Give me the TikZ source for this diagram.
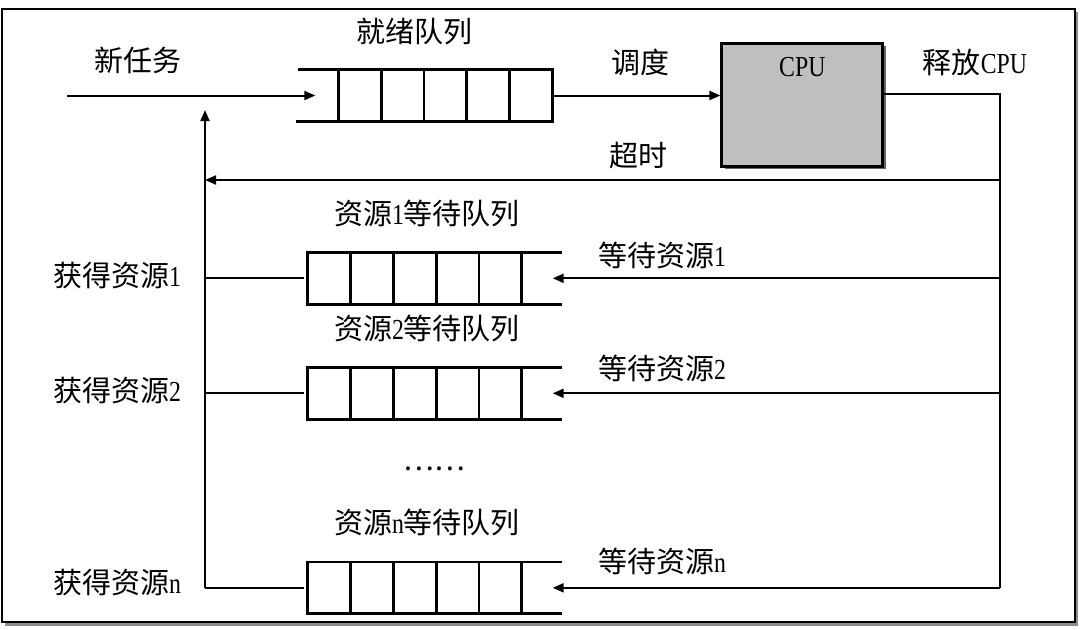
\documentclass[tikz,border=0pt]{standalone}
\usepackage{fontspec}
\setmainfont{Liberation Serif}[FakeStretch=0.82]
\newfontfamily\zhfont{Noto Sans CJK SC}
\newcommand{\zh}[1]{{\zhfont #1}}
\usetikzlibrary{positioning,arrows.meta,calc,shadows}

\begin{document}
\begin{tikzpicture}[
		x=0.5pt,y=-0.5pt,
		font=\fontsize{14.5pt}{17pt}\selectfont,
		cell/.style={draw,line width=1.4pt,minimum width=21.4pt,minimum height=25.8pt,inner sep=0pt,outer sep=0pt},
		pipe/.style={line width=1.4pt},
		ln/.style={line width=1pt},
		ar/.style={ln,-{Triangle[length=5.5pt,width=4.5pt]}},
		lbl/.style={inner sep=0pt},
		cpubox/.style={draw,line width=1.4pt,fill=black!25,minimum width=80.5pt,minimum height=61.4pt,
			drop shadow={shadow xshift=1.5pt,shadow yshift=-1.5pt,fill=black!60,opacity=1}}
		]

		\useasboundingbox (0,0) rectangle (1080,629);
		% frame
		\fill[black!45] (5,12) rectangle (1078,626);
		\draw[line width=1.4pt,fill=white] (2,9) rectangle (1075,622);

		% ready queue
		\node[cell] (r1) at (359.7,95.5) {};
		\foreach \i [count=\j from 2] in {1,...,4} \node[cell,right=0pt of r\i] (r\j) {};
		\draw[pipe] (r1.north west) -- ++(-40,0);
		\draw[pipe] (r1.south west) -- ++(-42,0);

		% cpu
		\node[cpubox,label={[lbl,anchor=north,yshift=-7.5pt]north:CPU}] (cpu) at (802.3,104.7) {};

		\coordinate (newin) at (67,95.5);
		\draw[ar,shorten >=11.5pt] (newin) -- (r1.west);
		\draw[ar] (r5.east) -- (r5.east -| cpu.west);

		% release / timeout
		\coordinate (bustop) at (1000,94.3);
		\coordinate (busbot) at (1000,587.8);
		\draw[ln] (cpu.east |- bustop) -- (bustop) -- (busbot);
		\coordinate (tor) at (1000,180);
		\coordinate (tol) at (205,180);
		\draw[ar] (tor) -- (tol);
		\coordinate (gettop) at (205,110);
		\coordinate (getbot) at (205,587.8);
		\draw[ar] (getbot) -- (gettop);

		% resource queues
		\foreach \q/\y in {a/278.3,b/393.3,n/587.8} {
			\node[cell] (\q1) at (329.1,\y) {};
			\foreach \i [count=\j from 2] in {1,...,4} \node[cell,right=0pt of \q\i] (\q\j) {};
			\draw[pipe] (\q5.north east) -- ++(40,0);
			\draw[pipe] (\q5.south east) -- ++(40,0);
			\coordinate (\q in) at (1000,\y);
			\coordinate (\q out) at (205,\y);
			\draw[ar,shorten >=15.5pt] (\q in) -- (\q5.east);
			\draw[ln,shorten >=2pt] (\q out) -- (\q1.west);
		}

		% labels
		\node[lbl] (newlbl) at (138,60) {\zh{新任务}};
		\node[lbl] (readylbl) at (414,32) {\zh{就绪队列}};
		\node[lbl] (schedlbl) at (640,62) {\zh{调度}};
		\node[lbl] (rellbl) at (975,62) {\zh{释放}CPU};
		\node[lbl] (tolbl) at (638,155) {\zh{超时}};
		\node[lbl] (qalbl) at (427,213) {\zh{资源}1\zh{等待队列}};
		\node[lbl] (qblbl) at (427,328) {\zh{资源}2\zh{等待队列}};
		\node[lbl] (qnlbl) at (427,522) {\zh{资源}n\zh{等待队列}};
		\node[lbl] (gotalbl) at (117,275) {\zh{获得资源}1};
		\node[lbl] (gotblbl) at (117,390) {\zh{获得资源}2};
		\node[lbl] (gotnlbl) at (117,582) {\zh{获得资源}n};
		\node[lbl] (waitalbl) at (662,255) {\zh{等待资源}1};
		\node[lbl] (waitblbl) at (662,368) {\zh{等待资源}2};
		\node[lbl] (waitnlbl) at (662,561) {\zh{等待资源}n};
		\node[lbl] (dots) at (434,469) {\zh{……}};

	\end{tikzpicture}
\end{document}
